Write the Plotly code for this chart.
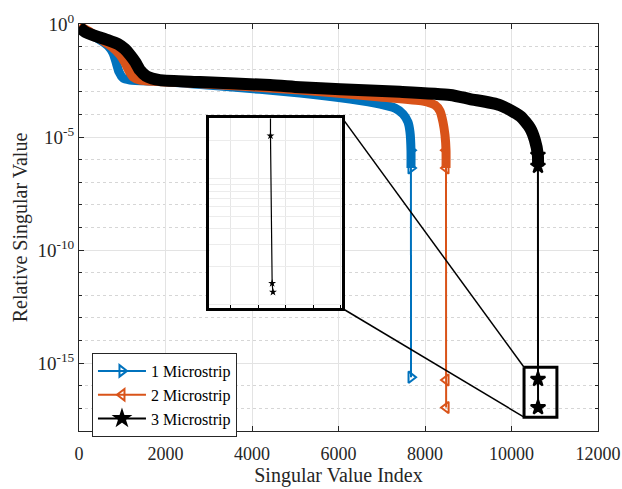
import numpy as np
import plotly.graph_objects as go

# ---------------- data ----------------
# 1 Microstrip (blue)
ms1_x = [0, 254, 486, 671, 786, 855, 925, 1017, 1179, 1873, 3260, 5110, 6266, 6960, 7306, 7491, 7607, 7653, 7676, 7676]
ms1_y = [0.74, 0.36, 0.195, 0.107, 0.052, 0.021, 7.6e-3, 4.1e-3, 3.3e-3, 2.9e-3, 1.8e-3, 8.9e-4, 4.8e-4, 2.9e-4,
         1.9e-4, 1.05e-4, 4.6e-5, 1.66e-5, 2.6e-6, 4.3e-7]
ms1_tail_x = [7675, 7676, 7677]
ms1_tail_y = [2.6e-6, 4.3e-7, 2.4e-16]

# 2 Microstrip (orange)
ms2_x = [0, 254, 486, 763, 948, 1064, 1156, 1249, 1410, 2798, 5110, 6960, 7954, 8231, 8347, 8416, 8462, 8486, 8486]
ms2_y = [0.81, 0.45, 0.22, 0.096, 0.043, 0.019, 8.3e-3, 4.5e-3, 3.3e-3, 2.3e-3, 1.2e-3, 5.9e-4, 3.9e-4, 2.6e-4,
         1.4e-4, 4.6e-5, 1.23e-5, 2.6e-6, 4.3e-7]
ms2_tail_x = [8485, 8486, 8487, 8488]
ms2_tail_y = [2.6e-6, 4.3e-7, 1.8e-16, 1.1e-17]

# 3 Microstrip (black)
ms3_x = [0, 140, 370, 670, 900, 1060, 1180, 1300, 1410, 1550, 1690, 1870, 2800, 4420, 5110, 6040, 7420, 8580,
         9040, 9730, 10200, 10430, 10540, 10610, 10613]
ms3_y = [0.74, 0.45, 0.30, 0.195, 0.13, 0.078, 0.043, 0.021, 9.1e-3, 5.0e-3, 3.9e-3, 3.3e-3, 2.7e-3, 2.0e-3,
         1.6e-3, 1.3e-3, 1.0e-3, 7.2e-4, 4.8e-4, 2.6e-4, 8.5e-5, 2.5e-5, 7.4e-6, 1.6e-6, 5.2e-7]
ms3_tail_x = [10611, 10612, 10613, 10614]
ms3_tail_y = [1.6e-6, 5.2e-7, 1.95e-16, 1.1e-17]

# inset (zoomed view)
inset_x = [10645, 10645, 10651, 10654]
inset_y = [1e-6, 2.2e-15, 1.48e-16, 1.26e-16]

# zoom rectangle on main axes
rect_x = [10290, 11050]
rect_y = [6.6e-16, 4.1e-18]

series_names = ["1 Microstrip", "2 Microstrip", "3 Microstrip"]
x_ticks = [0, 2000, 4000, 6000, 8000, 10000, 12000]
x_ticktext = ["0", "2000", "4000", "6000", "8000", "10000", "12000"]
y_ticks = [1, 1e-5, 1e-10, 1e-15]
y_ticktext = ["10<sup>0</sup>", "10<sup>-5</sup>", "10<sup>-10</sup>", "10<sup>-15</sup>"]

# ---------------- styling ----------------
BLUE = "#0072BD"
ORANGE = "#D95319"
BLACK = "#000000"
FONT = "Liberation Serif"
AXC = "#262626"

X_RANGE = [0, 12000]
Y_RANGE = [-18, 0]
INSET_XR = [10423, 10907]
INSET_YR = [-16.03, -14.52]
INSET_DOM_X = [0.2514, 0.5077]
INSET_DOM_Y = [0.301, 0.768]

fig = go.Figure()

# thick "bands" made by the dense markers
for xs, ys, col, w in [(ms1_x, ms1_y, BLUE, 9), (ms2_x, ms2_y, ORANGE, 9), (ms3_x, ms3_y, BLACK, 12)]:
    fig.add_trace(go.Scatter(x=xs, y=ys, mode="lines",
                             line=dict(color=col, width=w, shape="spline", smoothing=0.6),
                             showlegend=False, hoverinfo="skip"))

# tails with markers (also legend entries)
for xs, ys, col, sym, sz, name in [
    (ms1_tail_x, ms1_tail_y, BLUE, "triangle-right-open", 10, series_names[0]),
    (ms2_tail_x, ms2_tail_y, ORANGE, "triangle-left-open", 10, series_names[1]),
    (ms3_tail_x, ms3_tail_y, BLACK, "star", 11, series_names[2]),
]:
    fig.add_trace(go.Scatter(x=xs, y=ys, mode="lines+markers", name=name,
                             line=dict(color=col, width=2),
                             marker=dict(symbol=sym, size=sz, color=col, line=dict(color=col, width=2))))

# zoom rectangle
fig.add_trace(go.Scatter(x=[rect_x[0], rect_x[1], rect_x[1], rect_x[0], rect_x[0]],
                         y=[rect_y[0], rect_y[0], rect_y[1], rect_y[1], rect_y[0]],
                         mode="lines", line=dict(color=BLACK, width=3), showlegend=False, hoverinfo="skip"))

# inset trace
fig.add_trace(go.Scatter(x=inset_x, y=inset_y, mode="lines+markers", xaxis="x2", yaxis="y2",
                         line=dict(color=BLACK, width=1.2),
                         marker=dict(symbol="star", size=6, color=BLACK),
                         showlegend=False, hoverinfo="skip"))

# connector lines (paper coordinates computed from data)
def to_paper(x, y):
    px = (x - X_RANGE[0]) / (X_RANGE[1] - X_RANGE[0])
    py = (np.log10(y) - Y_RANGE[0]) / (Y_RANGE[1] - Y_RANGE[0])
    return px, py

tl = to_paper(rect_x[0], rect_y[0])
bl = to_paper(rect_x[0], rect_y[1])
fig.add_shape(type="line", xref="paper", yref="paper", x0=INSET_DOM_X[1], y0=INSET_DOM_Y[1],
              x1=tl[0], y1=tl[1], line=dict(color=BLACK, width=1.5))
fig.add_shape(type="line", xref="paper", yref="paper", x0=INSET_DOM_X[1], y0=INSET_DOM_Y[0],
              x1=bl[0], y1=bl[1], line=dict(color=BLACK, width=1.5))

inset_grid_y = [k * 10.0 ** d for d in range(-17, -13) for k in range(1, 10)]

fig.update_layout(
    width=622, height=489,
    margin=dict(l=79, r=24, t=24, b=58),
    paper_bgcolor="white", plot_bgcolor="white",
    font=dict(family=FONT, color=AXC, size=18),
    xaxis=dict(
        range=X_RANGE, tickvals=x_ticks, ticktext=x_ticktext, ticks="inside", ticklen=5, tickcolor=AXC,
        showline=True, linecolor=AXC, linewidth=1, mirror="ticks", automargin=False,
        showgrid=True, gridcolor="#e3e3e3", gridwidth=1, zeroline=False,
        tickfont=dict(family=FONT, size=18, color=AXC), ticklabelstandoff=6,
        title=dict(text="Singular Value Index", font=dict(family=FONT, size=20, color=AXC), standoff=2),
        domain=[0, 1],
    ),
    yaxis=dict(
        type="log", range=Y_RANGE, tickvals=y_ticks, ticktext=y_ticktext,
        ticks="inside", ticklen=5, tickcolor=AXC, automargin=False,
        showline=True, linecolor=AXC, linewidth=1, mirror="ticks",
        showgrid=True, gridcolor="#e3e3e3", gridwidth=1, zeroline=False,
        tickfont=dict(family=FONT, size=19, color=AXC), ticklabelstandoff=0,
        title=dict(text="Relative Singular Value", font=dict(family=FONT, size=20, color=AXC), standoff=4),
        minor=dict(tickmode="array", tickvals=[10.0 ** -k for k in range(0, 19)], ticks="inside",
                   ticklen=3, tickcolor=AXC, showgrid=True, gridcolor="#d6d6d6", griddash="dot", gridwidth=1),
        domain=[0, 1],
    ),
    xaxis2=dict(
        domain=INSET_DOM_X, anchor="y2", range=INSET_XR, dtick=100, tick0=10500,
        showticklabels=False, ticks="inside", ticklen=3, tickcolor=BLACK,
        showline=True, linecolor=BLACK, linewidth=3, mirror=True,
        showgrid=True, gridcolor="#e6e6e6", zeroline=False,
    ),
    yaxis2=dict(
        domain=INSET_DOM_Y, anchor="x2", type="log", range=INSET_YR,
        tickvals=inset_grid_y, showticklabels=False, ticks="",
        showline=True, linecolor=BLACK, linewidth=3, mirror=True,
        showgrid=True, gridcolor="#ececec", zeroline=False,
    ),
    legend=dict(
        x=0.025, y=0.1917, xanchor="left", yanchor="top",
        bgcolor="white", bordercolor=AXC, borderwidth=1,
        font=dict(family=FONT, size=16, color=BLACK),
        tracegroupgap=0, itemwidth=48,
    ),
    showlegend=True,
)

fig.write_html("out.html")
